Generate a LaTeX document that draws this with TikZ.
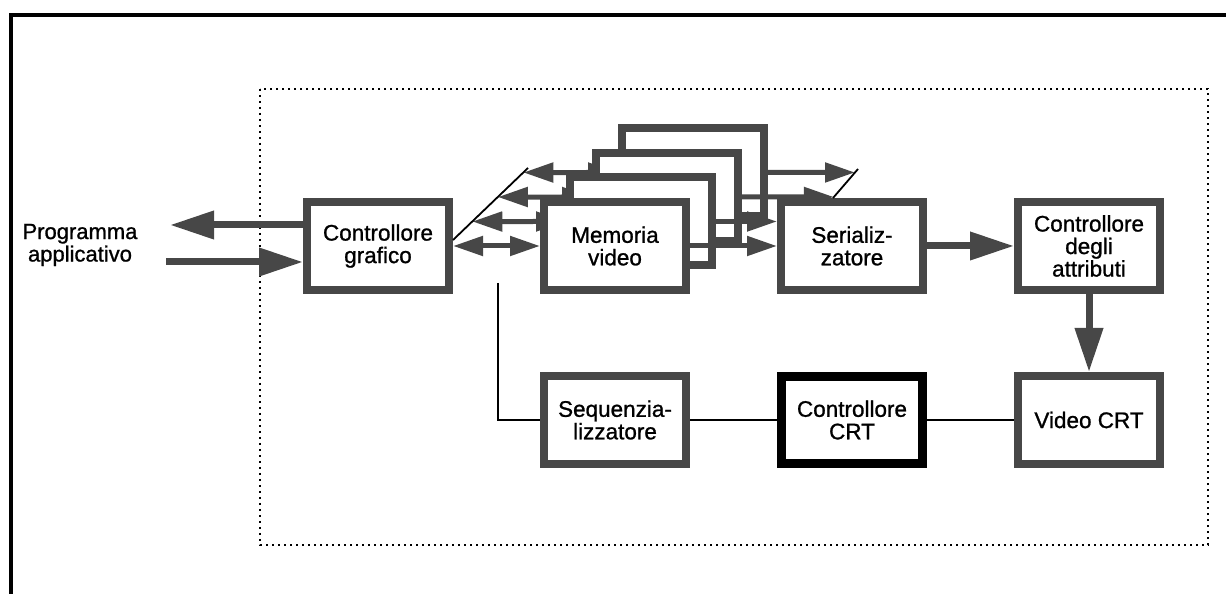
\documentclass[tikz,border=0pt]{standalone}
\usepackage{fontspec}
\setmainfont{Liberation Sans}[FakeBold=1]
\usetikzlibrary{arrows.meta,positioning}
\colorlet{hatch}{black!72}
\pgfdeclarelayer{plane3}
\pgfdeclarelayer{plane2}
\pgfdeclarelayer{plane1}
\pgfsetlayers{plane3,plane2,plane1,main}
\tikzset{
	node distance = 78pt and 87pt,
	blk/.style = {rectangle, draw=hatch, fill=white, line width=8pt, outer sep=4pt, inner sep=0pt,
		minimum width=142pt, minimum height=88pt, align=center, font=\fontsize{22.5}{22.5}\selectfont},
	crtblk/.style = {blk, draw=black, line width=9pt, outer sep=4.5pt, minimum width=141pt, minimum height=87pt},
	txt/.style = {align=center, inner sep=0pt, font=\fontsize{22}{22.5}\selectfont},
	bigarr/.style = {draw=hatch, line width=7pt, -{Triangle[length=44pt,width=27pt]}},
	smallarr/.style = {draw=hatch, line width=5pt, -{Triangle[length=30pt,width=19pt]}},
	dblarr/.style = {smallarr, {Triangle[length=30pt,width=19pt]}-{Triangle[length=30pt,width=19pt]}},
	wire/.style = {draw=black, line width=1.8pt},
	frame/.style = {draw=black, line width=3.5pt},
	dotbox/.style = {draw=black, line width=2pt, dash pattern=on 2pt off 4pt}
}
\begin{document}
\begin{tikzpicture}[x=1pt,y=1pt]
    \useasboundingbox (0,0) rectangle (1226,594);
    \draw[frame] (11,0) -- (11,579) -- (1226,579);
    \draw[dotbox] (260,505) rectangle (1208,49);

    \node[txt] (prog) at (80,349) {Programma\\applicativo};
    \node[blk] (cg) at (378,348) {Controllore\\grafico};
    \node[blk] (mem) [right=of cg] {Memoria\\video};
    \node[blk] (ser) [right=of mem] {Serializ-\\zatore};
    \node[blk] (attr) [right=of ser] {Controllore\\degli\\attributi};
    \node[blk] (seq) [below=of mem] {Sequenzia-\\lizzatore};
    \node[crtblk] (crt) [below=of ser] {Controllore\\CRT};
    \node[blk] (vid) [below=of attr] {Video CRT};

    \coordinate (bl1) at ([yshift=6pt]cg.east);
    \coordinate (bl2) at (528,426);
    \coordinate (br1) at ([xshift=-19pt]ser.north);
    \coordinate (br2) at (858,425);
    \coordinate (pout) at (170,369);
    \coordinate (pin) at (166,332);
    \coordinate (tap) at (498,311);

    \begin{pgfonlayer}{plane3}
    \node[blk] (mem4) at ([shift={(78,73.5)}]mem.center) {};
    \draw[dblarr] (intersection of bl1--bl2 and mem4.west--mem4.east) -- (mem4.west);
    \draw[smallarr] (mem4.east) -- (intersection of br1--br2 and mem4.west--mem4.east);
    \end{pgfonlayer}
    \begin{pgfonlayer}{plane2}
    \node[blk] (mem3) at ([shift={(52,49)}]mem.center) {};
    \draw[dblarr] (intersection of bl1--bl2 and mem3.west--mem3.east) -- (mem3.west);
    \draw[smallarr] (mem3.east) -- (intersection of br1--br2 and mem3.west--mem3.east);
    \end{pgfonlayer}
    \begin{pgfonlayer}{plane1}
    \node[blk] (mem2) at ([shift={(26,24.5)}]mem.center) {};
    \draw[dblarr] (intersection of bl1--bl2 and mem2.west--mem2.east) -- (mem2.west);
    \draw[smallarr] (mem2.east) -- (mem2.east -| ser.west);
    \end{pgfonlayer}

    \draw[dblarr] (cg.east) -- (mem.west);
    \draw[smallarr] (mem.east) -- (ser.west);

    \draw[wire] (bl1) -- (bl2);
    \draw[wire] (br1) -- (br2);
    \draw[wire] (tap) |- (seq.west);
    \draw[wire] (seq) -- (crt);
    \draw[wire] (crt) -- (vid);

    \draw[bigarr] ([yshift=21pt]cg.west) -- (pout);
    \draw[bigarr] (pin) -- ([yshift=-16pt]cg.west);
    \draw[bigarr] (ser) -- (attr);
    \draw[bigarr] (attr) -- (vid);
\end{tikzpicture}
\end{document}
